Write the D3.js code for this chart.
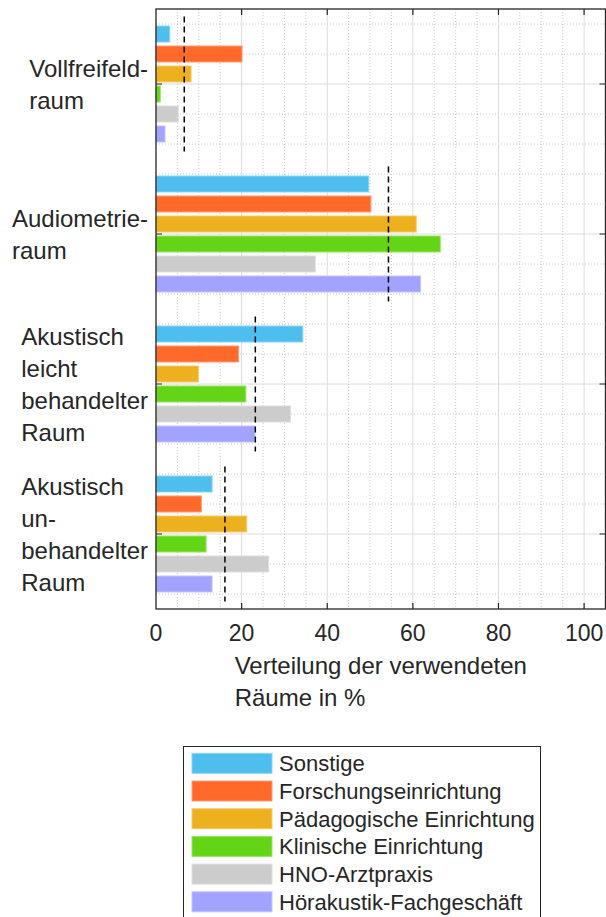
<!DOCTYPE html>
<html>
<head>
<meta charset="utf-8">
<script src="https://cdn.jsdelivr.net/npm/d3@7"></script>
<style>
  html, body { margin: 0; padding: 0; background: #fff; }
  svg { display: block; font-family: "Liberation Sans", Arial, sans-serif; }
</style>
</head>
<body>
<div id="chart"></div>
<script>
;(function() {
  "use strict";

  // Data
  // ---------------------------------------------------------------------------
  var categories = [
    ["Vollfreifeld-", "raum"],
    ["Audiometrie-", "raum"],
    ["Akustisch", "leicht", "behandelter", "Raum"],
    ["Akustisch", "un-", "behandelter", "Raum"]
  ];
  var series = [
    "Sonstige",
    "Forschungseinrichtung",
    "Pädagogische Einrichtung",
    "Klinische Einrichtung",
    "HNO-Arztpraxis",
    "Hörakustik-Fachgeschäft"
  ];
  var colors = ["#4dbeee", "#ff6929", "#edb120", "#64d417", "#cccccc", "#a2a2ff"];

  var sonstige   = [3.2, 49.7, 34.3, 13.1];
  var forschung  = [20.1, 50.2, 19.3, 10.6];
  var paedagogik = [8.2, 60.8, 9.9, 21.2];
  var klinisch   = [1.0, 66.4, 21.0, 11.7];
  var hno        = [5.2, 37.2, 31.4, 26.3];
  var hoerakustik = [2.1, 61.8, 23.1, 13.1];
  var means      = [6.6, 54.3, 23.2, 16.1];

  var values = [sonstige, forschung, paedagogik, klinisch, hno, hoerakustik];
  var xTicks = [0, 20, 40, 60, 80, 100];
  var xLabel = ["Verteilung der verwendeten", "Räume in %"];

  // Dimensions
  // ---------------------------------------------------------------------------
  var W = 606, H = 917;
  var plot = { left: 156, right: 605.5, top: 9, bottom: 609 };
  var ink = "#262626";

  var svg = d3.select("#chart").append("svg")
    .attr("width", W)
    .attr("height", H);

  var x = d3.scaleLinear().domain([0, 105]).range([plot.left, plot.right]);
  var y = d3.scaleLinear().domain([0.5, 4.5]).range([plot.top, plot.bottom]);
  var inner = d3.scaleBand()
    .domain(d3.range(series.length))
    .range([-0.4, 0.4])
    .paddingInner(0.2)
    .paddingOuter(0.1);

  // Grid
  // ---------------------------------------------------------------------------
  var grid = svg.append("g").attr("class", "grid");

  var xMinor = d3.range(5, 105, 5).filter(function(v) { return v % 20 !== 0; });
  var yMinor = d3.range(0.6, 4.5, 0.2).filter(function(v) {
    return Math.abs(v - Math.round(v)) > 0.01;
  });

  grid.selectAll(".xminor").data(xMinor).enter().append("line")
    .attr("x1", function(d) { return x(d); })
    .attr("x2", function(d) { return x(d); })
    .attr("y1", plot.top).attr("y2", plot.bottom)
    .attr("stroke", "#bdbdbd").attr("stroke-width", 0.8)
    .attr("stroke-dasharray", "1,2");

  grid.selectAll(".yminor").data(yMinor).enter().append("line")
    .attr("x1", plot.left).attr("x2", plot.right)
    .attr("y1", function(d) { return y(d); })
    .attr("y2", function(d) { return y(d); })
    .attr("stroke", "#bdbdbd").attr("stroke-width", 0.8)
    .attr("stroke-dasharray", "1,2");

  grid.selectAll(".xmajor").data(xTicks.slice(1)).enter().append("line")
    .attr("x1", function(d) { return x(d); })
    .attr("x2", function(d) { return x(d); })
    .attr("y1", plot.top).attr("y2", plot.bottom)
    .attr("stroke", "#dcdcdc").attr("stroke-width", 1);

  grid.selectAll(".ymajor").data(d3.range(1, 5)).enter().append("line")
    .attr("x1", plot.left).attr("x2", plot.right)
    .attr("y1", function(d) { return y(d); })
    .attr("y2", function(d) { return y(d); })
    .attr("stroke", "#dcdcdc").attr("stroke-width", 1);

  // Bars
  // ---------------------------------------------------------------------------
  var bars = svg.append("g").attr("class", "bars");
  var bh = y(inner.bandwidth()) - y(0);

  series.forEach(function(name, si) {
    var fill = colors[si];
    var edge = d3.interpolateRgb(fill, "#ffffff")(0.35);
    bars.selectAll(".s" + si).data(values[si]).enter().append("rect")
      .attr("x", x(0))
      .attr("y", function(d, gi) { return y(gi + 1 + inner(si)); })
      .attr("width", function(d) { return x(d) - x(0); })
      .attr("height", bh)
      .attr("fill", fill)
      .attr("stroke", edge)
      .attr("stroke-width", 1);
  });

  // Mean lines
  svg.append("g").selectAll("line").data(means).enter().append("line")
    .attr("x1", function(d) { return x(d); })
    .attr("x2", function(d) { return x(d); })
    .attr("y1", function(d, i) { return y(i + 1 - 0.45); })
    .attr("y2", function(d, i) { return y(i + 1 + 0.45); })
    .attr("stroke", "#000")
    .attr("stroke-width", 1.5)
    .attr("stroke-dasharray", "6,4");

  // Axes box & ticks
  // ---------------------------------------------------------------------------
  var axes = svg.append("g").attr("class", "axes");
  var tl = 6;

  axes.selectAll(".tb").data(xTicks.slice(1)).enter().append("path")
    .attr("d", function(d) {
      var px = x(d);
      return "M" + px + "," + plot.bottom + "V" + (plot.bottom - tl) +
        "M" + px + "," + plot.top + "V" + (plot.top + tl);
    })
    .attr("stroke", ink).attr("stroke-width", 1.2);

  axes.selectAll(".ty").data(d3.range(1, 5)).enter().append("path")
    .attr("d", function(d) {
      var py = y(d);
      return "M" + plot.left + "," + py + "H" + (plot.left + tl) +
        "M" + plot.right + "," + py + "H" + (plot.right - tl);
    })
    .attr("stroke", ink).attr("stroke-width", 1.2);

  axes.append("rect")
    .attr("x", plot.left).attr("y", plot.top)
    .attr("width", plot.right - plot.left)
    .attr("height", plot.bottom - plot.top)
    .attr("fill", "none").attr("stroke", ink).attr("stroke-width", 1.3);

  // Tick labels
  axes.selectAll(".xl").data(xTicks).enter().append("text")
    .attr("x", function(d) { return x(d); })
    .attr("y", 641)
    .attr("text-anchor", "middle")
    .attr("font-size", 23)
    .attr("fill", ink)
    .text(function(d) { return d; });

  // Category labels: left-aligned block, right edge next to axis
  var lineH = 32;
  categories.forEach(function(lines, gi) {
    var t = axes.append("text")
      .attr("font-size", 24)
      .attr("fill", ink);
    var y0 = y(gi + 1) + 9 - (lines.length - 1) * lineH / 2;
    lines.forEach(function(s, li) {
      t.append("tspan").attr("y", y0 + li * lineH).text(s);
    });
    var maxW = d3.max(t.selectAll("tspan").nodes(), function(n) {
      return n.getComputedTextLength();
    });
    t.selectAll("tspan").attr("x", plot.left - 8 - maxW);
  });

  // X label: left-aligned block centered on axis
  var xl = axes.append("text")
    .attr("font-size", 24)
    .attr("fill", ink);
  xLabel.forEach(function(s, li) {
    xl.append("tspan").attr("y", 674 + li * lineH).text(s);
  });
  var xlW = d3.max(xl.selectAll("tspan").nodes(), function(n) {
    return n.getComputedTextLength();
  });
  xl.selectAll("tspan").attr("x", (plot.left + plot.right) / 2 - xlW / 2);

  // Legend
  // ---------------------------------------------------------------------------
  var legend = svg.append("g").attr("class", "legend");
  legend.append("rect")
    .attr("x", 183.5).attr("y", 746.5)
    .attr("width", 357).attr("height", 190)
    .attr("fill", "#fff").attr("stroke", ink).attr("stroke-width", 1);

  var rowY = d3.scalePoint().domain(d3.range(series.length)).range([763.3, 901.8]);

  var items = legend.selectAll(".item").data(series).enter().append("g");
  items.append("rect")
    .attr("x", 192)
    .attr("y", function(d, i) { return rowY(i) - 10; })
    .attr("width", 80).attr("height", 20)
    .attr("fill", function(d, i) { return colors[i]; })
    .attr("stroke", function(d, i) { return d3.interpolateRgb(colors[i], "#ffffff")(0.35); })
    .attr("stroke-width", 1);
  items.append("text")
    .attr("x", 279)
    .attr("y", function(d, i) { return rowY(i) + 8; })
    .attr("font-size", 22)
    .attr("fill", ink)
    .text(function(d) { return d; });
})();
</script>
</body>
</html>
